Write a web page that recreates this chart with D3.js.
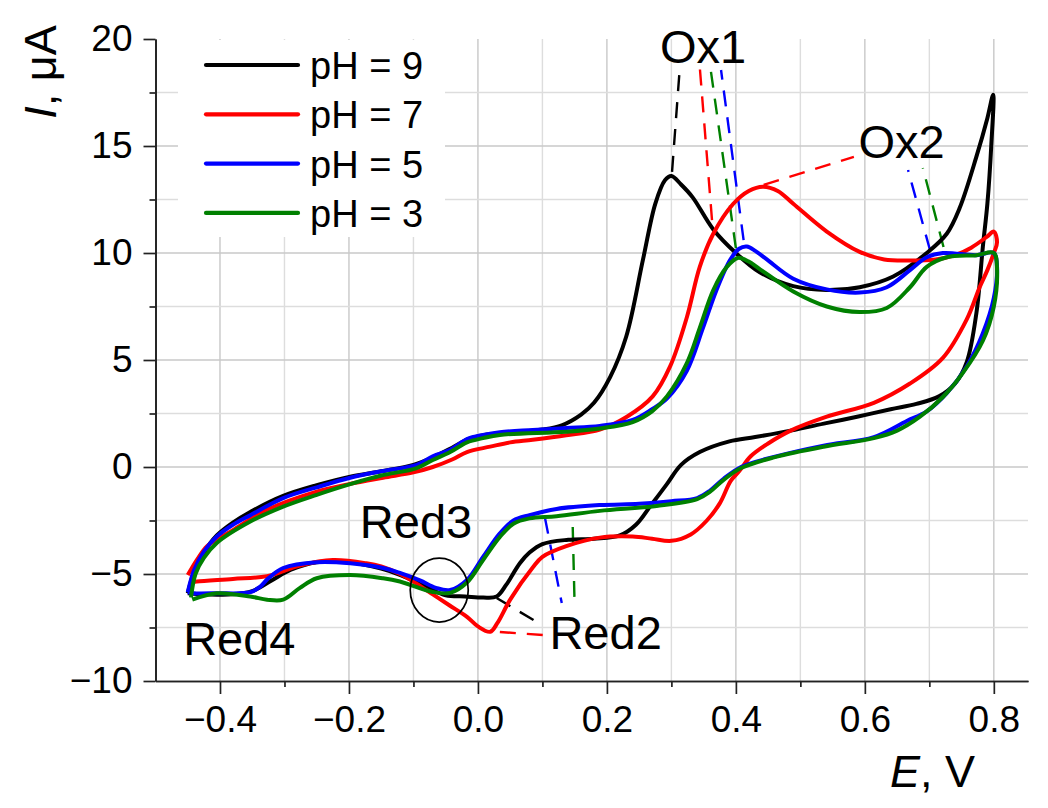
<!DOCTYPE html>
<html>
<head>
<meta charset="utf-8">
<script src="https://cdn.jsdelivr.net/npm/d3@7"></script>
<style>
  body { margin: 0; background: #fff; }
  svg { display: block; font-family: "Liberation Sans", Arial, sans-serif; }
</style>
</head>
<body>
<div id="vis"></div>
<script>
// cyclic voltammograms, [E (V), I (uA)]: anodic sweep then cathodic sweep
var ph9 = [
  [-0.450,-5.9],[-0.440,-4.9],[-0.425,-4.0],[-0.405,-3.2],[-0.380,-2.6],[-0.353,-2.1],
  [-0.302,-1.35],[-0.250,-0.85],[-0.198,-0.45],[-0.150,-0.2],[-0.100,0.1],[-0.070,0.45],
  [-0.040,0.9],[-0.015,1.3],[0.010,1.5],[0.050,1.6],[0.100,1.75],[0.130,1.95],[0.160,2.45],
  [0.180,3.0],[0.205,4.2],[0.230,6.1],[0.256,9.7],[0.275,12.3],[0.290,13.4],[0.300,13.6],
  [0.315,13.2],[0.333,12.6],[0.365,11.1],[0.400,10.0],[0.437,9.1],[0.489,8.45],[0.541,8.27],
  [0.592,8.4],[0.644,8.9],[0.696,10.0],[0.727,10.9],[0.747,12.1],[0.773,14.5],[0.790,16.3],
  [0.799,17.4],
  [0.796,15.0],[0.790,12.3],[0.783,10.3],[0.773,7.2],[0.758,4.9],[0.740,3.9],[0.715,3.3],
  [0.680,2.95],[0.640,2.7],[0.588,2.35],[0.540,2.05],[0.485,1.7],[0.430,1.4],[0.390,1.2],
  [0.344,0.7],[0.315,0.1],[0.293,-0.8],[0.268,-1.8],[0.245,-2.7],[0.220,-3.2],[0.180,-3.35],
  [0.140,-3.4],[0.100,-3.6],[0.080,-4.0],[0.065,-4.5],[0.044,-5.5],[0.029,-6.05],[0.008,-6.1],
  [-0.020,-6.05],[-0.050,-6.0],[-0.080,-5.6],[-0.120,-5.05],[-0.150,-4.75],[-0.200,-4.45],
  [-0.250,-4.45],[-0.290,-4.8],[-0.320,-5.3],[-0.350,-5.8],[-0.380,-5.95],[-0.420,-5.95],
  [-0.450,-5.9]
];
var ph7 = [
  [-0.450,-5.05],[-0.435,-4.3],[-0.420,-3.7],[-0.400,-3.3],[-0.380,-2.95],[-0.327,-2.0],
  [-0.250,-1.15],[-0.200,-0.8],[-0.147,-0.5],[-0.100,-0.25],[-0.070,0.0],[-0.040,0.35],
  [-0.017,0.7],[0.019,0.95],[0.050,1.15],[0.085,1.27],[0.137,1.48],[0.189,1.75],[0.231,2.35],
  [0.271,3.3],[0.298,4.7],[0.324,7.0],[0.344,9.35],[0.365,10.9],[0.396,12.3],[0.420,12.9],
  [0.442,13.1],[0.465,12.9],[0.489,12.3],[0.541,11.0],[0.592,10.05],[0.630,9.7],[0.670,9.65],
  [0.710,9.7],[0.740,9.9],[0.765,10.25],[0.789,10.75],[0.800,11.0],
  [0.805,10.5],[0.800,10.0],[0.790,9.2],[0.778,8.4],[0.758,6.9],[0.721,5.1],[0.670,3.9],
  [0.614,3.0],[0.541,2.35],[0.485,1.7],[0.450,1.1],[0.423,0.5],[0.405,-0.2],[0.392,-0.65],
  [0.375,-1.7],[0.355,-2.5],[0.330,-3.15],[0.300,-3.45],[0.270,-3.35],[0.240,-3.25],
  [0.189,-3.3],[0.137,-3.7],[0.100,-4.2],[0.085,-4.7],[0.050,-6.2],[0.030,-7.3],[0.019,-7.7],
  [0.000,-7.45],[-0.017,-7.0],[-0.045,-6.45],[-0.070,-5.95],[-0.095,-5.45],[-0.121,-5.0],
  [-0.150,-4.65],[-0.173,-4.5],[-0.225,-4.35],[-0.276,-4.6],[-0.327,-5.1],[-0.380,-5.23],
  [-0.436,-5.35],[-0.447,-5.4]
];
var ph5 = [
  [-0.450,-5.85],[-0.440,-4.8],[-0.425,-3.95],[-0.405,-3.25],[-0.380,-2.7],[-0.353,-2.25],
  [-0.302,-1.45],[-0.250,-0.95],[-0.198,-0.5],[-0.150,-0.2],[-0.095,0.1],[-0.070,0.5],
  [-0.043,0.8],[-0.017,1.3],[0.008,1.5],[0.034,1.63],[0.085,1.73],[0.137,1.82],[0.189,1.92],
  [0.240,2.2],[0.270,2.7],[0.293,3.2],[0.324,4.5],[0.349,6.5],[0.370,8.27],[0.391,9.67],
  [0.405,10.2],[0.417,10.3],[0.430,10.1],[0.448,9.7],[0.489,8.8],[0.541,8.3],[0.592,8.15],
  [0.634,8.4],[0.670,9.2],[0.696,9.8],[0.721,10.0],[0.773,9.9],[0.800,10.0],
  [0.805,9.35],[0.800,7.9],[0.783,6.25],[0.758,4.7],[0.727,3.45],[0.696,2.6],[0.665,2.15],
  [0.614,1.4],[0.536,1.0],[0.459,0.47],[0.408,0.0],[0.381,-0.55],[0.360,-1.1],[0.340,-1.45],
  [0.300,-1.6],[0.250,-1.72],[0.189,-1.78],[0.122,-1.96],[0.080,-2.25],[0.055,-2.5],
  [0.034,-3.1],[0.008,-4.2],[-0.017,-5.28],[-0.043,-5.75],[-0.065,-5.65],[-0.090,-5.3],
  [-0.121,-4.95],[-0.147,-4.72],[-0.198,-4.5],[-0.250,-4.45],[-0.302,-4.72],[-0.325,-5.2],
  [-0.338,-5.6],[-0.353,-5.85],[-0.405,-5.9],[-0.442,-5.9],[-0.450,-5.85]
];
var ph3 = [
  [-0.445,-6.1],[-0.438,-5.0],[-0.425,-4.25],[-0.405,-3.55],[-0.353,-2.55],[-0.302,-1.85],
  [-0.250,-1.3],[-0.198,-0.8],[-0.150,-0.4],[-0.095,-0.05],[-0.070,0.33],[-0.043,0.7],
  [-0.017,1.15],[0.008,1.35],[0.034,1.5],[0.137,1.65],[0.189,1.8],[0.240,2.1],[0.270,2.6],
  [0.293,3.3],[0.324,4.86],[0.344,6.5],[0.365,8.27],[0.386,9.35],[0.403,9.77],[0.420,9.6],
  [0.437,9.25],[0.489,8.2],[0.541,7.5],[0.592,7.24],[0.634,7.43],[0.670,8.4],[0.696,9.35],
  [0.727,9.8],[0.773,9.9],[0.800,10.0],
  [0.805,9.2],[0.800,7.5],[0.783,5.9],[0.752,4.4],[0.721,3.27],[0.685,2.34],[0.650,1.7],
  [0.614,1.35],[0.536,0.95],[0.459,0.45],[0.408,-0.05],[0.381,-0.6],[0.360,-1.15],
  [0.340,-1.5],[0.277,-1.82],[0.189,-2.05],[0.122,-2.3],[0.080,-2.4],[0.055,-2.65],
  [0.034,-3.27],[0.008,-4.35],[-0.017,-5.4],[-0.043,-5.88],[-0.070,-5.84],[-0.121,-5.35],
  [-0.147,-5.2],[-0.198,-5.05],[-0.250,-5.2],[-0.276,-5.65],[-0.302,-6.2],[-0.327,-6.2],
  [-0.353,-6.05],[-0.405,-5.9],[-0.443,-6.2]
];

var seriesNames = ["pH = 9", "pH = 7", "pH = 5", "pH = 3"];
var seriesColors = ["#000000", "#ff0000", "#0000ff", "#008000"];
var seriesData = [ph9, ph7, ph5, ph3];

// peak label leader lines: [colour index, [E1, I1], [E2, I2]]
var ox1Leaders = [[0,[0.301,13.79],[0.313,18.64]],[1,[0.363,11.54],[0.344,18.69]],
                  [3,[0.400,10.23],[0.361,18.55]],[2,[0.412,10.6],[0.377,18.55]]];
var ox2Leaders = [[1,[0.443,13.18],[0.583,14.49]],[2,[0.701,10.14],[0.667,13.88]],
                  [3,[0.722,10.28],[0.690,13.97]]];
var red2Leaders = [[0,[0.029,-6.12],[0.091,-7.24]],[1,[0.034,-7.71],[0.101,-7.85]],
                   [2,[0.104,-2.38],[0.130,-6.36]],[3,[0.147,-2.80],[0.150,-6.54]]];

// peak labels: [text, E, I of baseline centre]
var peakLabels = [["Ox1",0.349,18.9],["Ox2",0.657,14.45],["Red3",-0.096,-3.32],
                  ["Red4",-0.370,-8.78],["Red2",0.198,-8.5]];
var red3Ring = [-0.060, -5.75];

var xMajor = [-0.4,-0.2,0.0,0.2,0.4,0.6,0.8];
var xMinor = [-0.3,-0.1,0.1,0.3,0.5,0.7];
var xGrid = d3.range(-4, 9).map(function(d) { return d / 10; });
var yMajor = [-10,-5,0,5,10,15,20];
var yMinor = [-7.5,-2.5,2.5,7.5,12.5,17.5];
var yGrid = d3.range(-3, 8).map(function(d) { return d * 2.5; });

var W = 1048, H = 808;
var x = d3.scaleLinear().domain([-0.5, 0.853]).range([155.5, 1028]);
var y = d3.scaleLinear().domain([-10, 20]).range([681, 39]);

var svg = d3.select("#vis").append("svg").attr("width", W).attr("height", H);

// grid
svg.append("g").selectAll("line").data(xGrid).enter().append("line")
  .attr("x1", function(d) { return x(d); }).attr("x2", function(d) { return x(d); })
  .attr("y1", y(20)).attr("y2", y(-10))
  .attr("stroke", function(d) { return Math.round(d * 10) % 2 === 0 ? "#c8c8c8" : "#dddddd"; })
  .attr("stroke-width", 1.4);
svg.append("g").selectAll("line").data(yGrid).enter().append("line")
  .attr("x1", x(-0.5)).attr("x2", x(0.853))
  .attr("y1", function(d) { return y(d); }).attr("y2", function(d) { return y(d); })
  .attr("stroke", function(d) { return d % 5 === 0 ? "#c8c8c8" : "#dddddd"; })
  .attr("stroke-width", 1.4);

// legend background hides grid
svg.append("rect").attr("x", 178).attr("y", 40).attr("width", 267).attr("height", 197)
  .attr("fill", "#fff");

// axes
function styleAxis(g) {
  g.selectAll("path, line").attr("stroke", "#222").attr("stroke-width", 1.7);
  g.selectAll("text").attr("font-size", 37).attr("fill", "#000")
    .attr("font-family", "'Liberation Sans', Arial, sans-serif");
}
svg.append("g").attr("transform", "translate(0," + y(-10) + ")")
  .call(d3.axisBottom(x).tickValues(xMinor).tickSize(6).tickSizeOuter(0).tickFormat(""))
  .call(styleAxis);
svg.append("g").attr("transform", "translate(0," + y(-10) + ")")
  .call(d3.axisBottom(x).tickValues(xMajor).tickSize(13).tickSizeOuter(0).tickPadding(12)
    .tickFormat(d3.format(".1f")))
  .call(styleAxis);
svg.append("g").attr("transform", "translate(" + x(-0.5) + ",0)")
  .call(d3.axisLeft(y).tickValues(yMinor).tickSize(6).tickSizeOuter(0).tickFormat(""))
  .call(styleAxis);
svg.append("g").attr("transform", "translate(" + x(-0.5) + ",0)")
  .call(d3.axisLeft(y).tickValues(yMajor).tickSize(12).tickSizeOuter(0).tickPadding(11)
    .tickFormat(d3.format("d")))
  .call(styleAxis);

// axis titles
var xt = svg.append("text").attr("x", 975).attr("y", 787).attr("text-anchor", "end")
  .attr("font-size", 45).attr("fill", "#000");
xt.append("tspan").attr("font-style", "italic").text("E");
xt.append("tspan").text(", V");
var yt = svg.append("text").attr("transform", "translate(56,72) rotate(-90)")
  .attr("text-anchor", "middle").attr("font-size", 45).attr("fill", "#000");
yt.append("tspan").attr("font-style", "italic").text("I");
yt.append("tspan").text(", μA");

// leader lines
var leaders = ox1Leaders.concat(ox2Leaders, red2Leaders);
svg.append("g").selectAll("line").data(leaders).enter().append("line")
  .attr("x1", function(d) { return x(d[1][0]); }).attr("y1", function(d) { return y(d[1][1]); })
  .attr("x2", function(d) { return x(d[2][0]); }).attr("y2", function(d) { return y(d[2][1]); })
  .attr("stroke", function(d) { return seriesColors[d[0]]; })
  .attr("stroke-width", 2.4).attr("stroke-dasharray", "16,11");

// curves
var line = d3.line()
  .x(function(d) { return x(d[0]); })
  .y(function(d) { return y(d[1]); })
  .curve(d3.curveCatmullRom.alpha(0.5));
svg.append("g").selectAll("path").data(seriesData).enter().append("path")
  .attr("d", line)
  .attr("fill", "none")
  .attr("stroke", function(d, i) { return seriesColors[i]; })
  .attr("stroke-width", 4)
  .attr("stroke-linejoin", "round");

// Red3 ring
svg.append("ellipse").attr("cx", x(red3Ring[0])).attr("cy", y(red3Ring[1]))
  .attr("rx", 29).attr("ry", 32).attr("fill", "none").attr("stroke", "#000").attr("stroke-width", 1.7);

// peak labels
svg.append("g").selectAll("text").data(peakLabels).enter().append("text")
  .attr("x", function(d) { return x(d[1]); }).attr("y", function(d) { return y(d[2]); })
  .attr("text-anchor", "middle").attr("font-size", 47).attr("fill", "#000")
  .text(function(d) { return d[0]; });

// legend
var leg = svg.append("g").selectAll("g").data(seriesNames).enter().append("g")
  .attr("transform", function(d, i) { return "translate(0," + (65 + i * 49.3) + ")"; });
leg.append("line").attr("x1", 206).attr("x2", 298)
  .attr("stroke", function(d, i) { return seriesColors[i]; })
  .attr("stroke-width", 4.2).attr("stroke-linecap", "round");
leg.append("text").attr("x", 310).attr("y", 14).attr("font-size", 38).attr("fill", "#000")
  .text(function(d) { return d; });
</script>
</body>
</html>
